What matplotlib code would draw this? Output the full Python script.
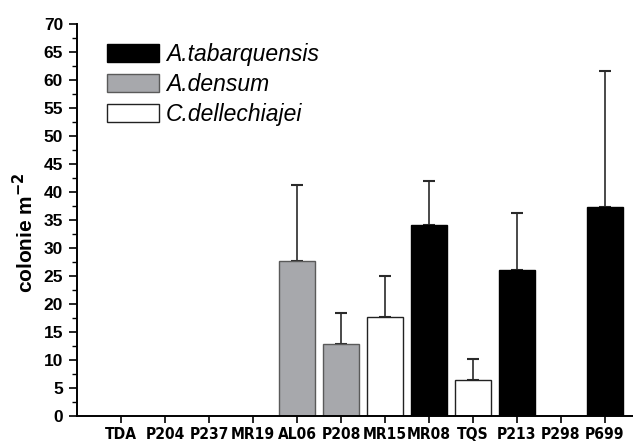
import matplotlib
matplotlib.use("Agg")
import matplotlib.pyplot as plt
import numpy as np
from matplotlib.patches import Patch
from matplotlib.ticker import MultipleLocator
from matplotlib import font_manager

sites = ["TDA", "P204", "P237", "MR19", "AL06", "P208", "MR15", "MR08", "TQS", "P213", "P298", "P699"]
species = ["A.tabarquensis", "A.densum", "C.dellechiajei", "", "A.densum", "A.densum", "C.dellechiajei",
           "A.tabarquensis", "C.dellechiajei", "A.tabarquensis", "", "A.tabarquensis"]
values = [0, 0, 0, 0, 27.6, 12.9, 17.75, 34.1, 6.4, 26.0, 0, 37.3]
errors = [0, 0, 0, 0, 13.7, 5.5, 7.25, 7.9, 3.8, 10.3, 0, 24.3]
legend_labels = ["A.tabarquensis", "A.densum", "C.dellechiajei"]

colors = {"A.tabarquensis": "#000000", "A.densum": "#a7a8ac", "C.dellechiajei": "#ffffff", "": "#ffffff"}
edges = {"A.tabarquensis": "#000000", "A.densum": "#5a5a5a", "C.dellechiajei": "#222222", "": "#222222"}

plt.rcParams['font.family'] = ['Liberation Sans', 'DejaVu Sans']

# choose a condensed bold face for the x tick labels if one is installed
fl = font_manager.fontManager.ttflist
xt_props = dict(family=['Liberation Sans', 'DejaVu Sans'], size=11.2, weight='bold')
if any(f.name == 'Liberation Sans Narrow' for f in fl):
    xt_props = dict(family=['Liberation Sans Narrow', 'DejaVu Sans'], size=13, weight='bold')
elif any(f.name == 'DejaVu Sans' and str(f.stretch) == 'condensed' for f in fl):
    xt_props = dict(family=['DejaVu Sans'], size=11.2, weight='bold', stretch='condensed')

fig = plt.figure(figsize=(6.33, 4.43), dpi=100)
ax = fig.add_axes([77/633, (443-416)/443, 1 - 77/633, (416-24)/443])

x = np.arange(1, len(sites) + 1)
for xi, v, e, sp in zip(x, values, errors, species):
    if v <= 0:
        continue
    ax.bar(xi, v, width=0.82, color=colors[sp], edgecolor=edges[sp], linewidth=1.0, zorder=2)
    ax.errorbar(xi, v, yerr=[[0], [e]], fmt='none', ecolor='#2a2a2a', elinewidth=1.2,
                capsize=4, capthick=1.5, zorder=1)

ax.set_xlim(0, (633 - 77) / 44)
ax.set_ylim(0, 70)
ax.set_xticks(x)
ax.set_xticklabels(sites, **xt_props)
ax.yaxis.set_major_locator(MultipleLocator(5))
ax.yaxis.set_minor_locator(MultipleLocator(2.5))
for lab in ax.get_yticklabels():
    lab.set_fontsize(12.5)
    lab.set_fontweight('bold')

ax.spines['top'].set_visible(False)
ax.spines['right'].set_visible(False)
ax.spines['left'].set_linewidth(1.4)
ax.spines['bottom'].set_linewidth(1.4)
ax.tick_params(axis='y', which='major', direction='out', length=6, width=1.2, pad=4)
ax.tick_params(axis='y', which='minor', direction='out', length=3.6, width=1.0)
ax.tick_params(axis='x', which='major', direction='out', length=5.3, width=1.2, pad=2.5)

ax.set_ylabel("colonie m$^{\\mathbf{-2}}$", fontsize=15, fontweight='bold')
ax.yaxis.set_label_coords((37 - 77) / 556, (416 - 233) / 392)

handles = [Patch(facecolor=colors[s], edgecolor=edges[s], linewidth=1.0) for s in legend_labels]
leg = fig.legend(handles, legend_labels, loc='upper left', bbox_to_anchor=(107/633, 1 - 43/443),
                 frameon=False, prop={'size': 16.5, 'style': 'italic'}, handlelength=2.27,
                 handleheight=0.87, handletextpad=0.3, labelspacing=0.3, borderpad=0, borderaxespad=0)

fig.savefig("out.png", dpi=100)
